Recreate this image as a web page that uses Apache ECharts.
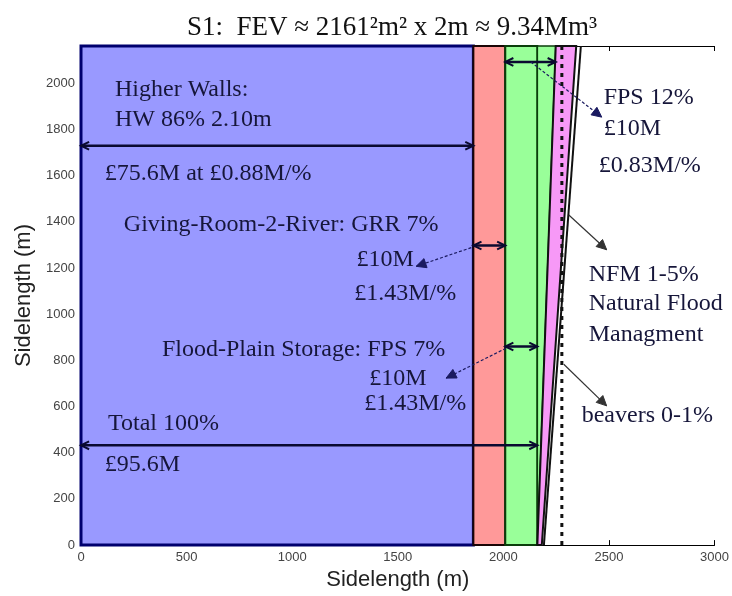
<!DOCTYPE html>
<html lang="en">
<head>
  <meta charset="UTF-8">
  <title>S1: FEV</title>
  <style>html, body { margin: 0; background: #fff; }</style>
</head>
<body>
  <div id="main" style="width: 732px;height: 596px;"></div>
  <script src="https://cdn.jsdelivr.net/npm/echarts@6/dist/echarts.min.js"></script>
  <script>
    // side of the FEV square (m)
    var side = 2161;
    // strip edges along the base: HW 86% | GRR 7% | FPS 7%
    var baseEdges = [0, 1858, 2009, 2161];
    // slanted wedges, [x at bottom, x at top]
    var fpsWedge = [2161, 2248];
    var nfmWedge = [2182, 2345];
    var beaverLine = [2192, 2367];
    var dottedX = 2277;
    var xMax = 3000;

    // double arrows: x1, y1, x2, y2
    var spans = [
      [0, 1729, 1858, 1729],
      [1858, 1297, 2009, 1297],
      [2009, 860, 2161, 860],
      [0, 432, 2161, 432],
      [2009, 2092, 2248, 2092]
    ];
    // pointer arrows: from x, y -> to x, y
    var pointers = [
      [1848, 1288, 1587, 1207],
      [2012, 852, 1729, 723],
      [2130, 2092, 2466, 1853],
      [2310, 1429, 2489, 1279],
      [2286, 783, 2489, 603]
    ];
    // annotation text anchors (left, middle)
    var noteX = [161, 161, 113, 203, 1304, 1294, 383, 1365, 1341, 128, 113, 2475, 2475, 2452, 2404, 2404, 2404, 2371];
    var noteY = [1973, 1844, 1609, 1386, 1237, 1087, 847, 719, 612, 526, 347, 1938, 1801, 1643, 1172, 1044, 911, 561];
    var noteText = [
      'Higher Walls:', 'HW 86% 2.10m', '£75.6M at £0.88M/%',
      'Giving-Room-2-River: GRR 7%', '£10M', '£1.43M/%',
      'Flood-Plain Storage: FPS 7%', '£10M', '£1.43M/%',
      'Total 100%', '£95.6M',
      'FPS 12%', '£10M', '£0.83M/%',
      'NFM 1-5%', 'Natural Flood', 'Managment',
      'beavers 0-1%'
    ];

    var zones = [
      [[baseEdges[0], 0], [baseEdges[1], 0], [baseEdges[1], side], [baseEdges[0], side]],
      [[baseEdges[1], 0], [baseEdges[2], 0], [baseEdges[2], side], [baseEdges[1], side]],
      [[baseEdges[2], 0], [baseEdges[3], 0], [baseEdges[3], side], [baseEdges[2], side]],
      [[fpsWedge[0], 0], [fpsWedge[1], side], [fpsWedge[0], side]],
      [[fpsWedge[0], 0], [nfmWedge[0], 0], [nfmWedge[1], side], [fpsWedge[1], side]]
    ];
    var zoneStyle = [
      { fill: '#9999ff', stroke: '#00006e', lineWidth: 3 },
      { fill: '#ff9999', stroke: '#1a0505', lineWidth: 2 },
      { fill: '#99ff99', stroke: '#0b3d0b', lineWidth: 2 },
      { fill: '#99ff99', stroke: '#0b3d0b', lineWidth: 1.5 },
      { fill: '#f799f7', stroke: '#111', lineWidth: 2 }
    ];
    var edgeLines = [
      [[beaverLine[0], 0], [beaverLine[1], side]],
      [[dottedX, 0], [dottedX, side]]
    ];

    function head(tip, from, len, filled, color) {
      var dx = from[0] - tip[0], dy = from[1] - tip[1];
      var d = Math.sqrt(dx * dx + dy * dy) || 1;
      dx /= d; dy /= d;
      var a = 0.45;
      var p1 = [tip[0] + len * (dx * Math.cos(a) - dy * Math.sin(a)), tip[1] + len * (dx * Math.sin(a) + dy * Math.cos(a))];
      var p2 = [tip[0] + len * (dx * Math.cos(a) + dy * Math.sin(a)), tip[1] + len * (-dx * Math.sin(a) + dy * Math.cos(a))];
      if (filled) {
        return { type: 'polygon', shape: { points: [p1, tip, p2] }, style: { fill: color, stroke: color, lineWidth: 1 } };
      }
      return { type: 'polyline', shape: { points: [p1, tip, p2] }, style: { stroke: color, lineWidth: 2, fill: null } };
    }

    var plain = function (v) { return String(v); };
    var tickFont = { margin: 6, fontFamily: 'Liberation Sans', fontSize: 13, color: '#444', formatter: plain };

    var chart = echarts.init(document.getElementById('main'));
    chart.setOption({
      animation: false,
      title: {
        text: 'S1:  FEV \u2248 2161\u00b2m\u00b2 x 2m \u2248 9.34Mm\u00b3',
        left: 182,
        top: 9,
        textStyle: { fontFamily: 'Liberation Serif', fontSize: 27, fontWeight: 'normal', color: '#111' }
      },
      grid: { left: 81, right: 16, top: 46, bottom: 45 },
      xAxis: [{
        type: 'value', min: 0, max: xMax, interval: 500,
        axisLine: { lineStyle: { color: '#000', width: 1 } },
        axisTick: { inside: true, length: 5, lineStyle: { color: '#000' } },
        splitLine: { show: false },
        axisLabel: tickFont,
        name: 'Sidelength (m)', nameLocation: 'middle', nameGap: 21,
        nameTextStyle: { fontFamily: 'Liberation Sans', fontSize: 22, color: '#222' }
      }, {
        type: 'value', position: 'top', min: 0, max: xMax, interval: 500,
        axisLine: { lineStyle: { color: '#000', width: 1 } },
        axisTick: { inside: true, length: 5, lineStyle: { color: '#000' } },
        axisLabel: { show: false },
        splitLine: { show: false }
      }],
      yAxis: {
        type: 'value', min: 0, max: side, interval: 200,
        axisLine: { lineStyle: { color: '#000', width: 1 } },
        axisTick: { inside: true, length: 5, lineStyle: { color: '#000' } },
        splitLine: { show: false },
        axisLabel: Object.assign({ showMaxLabel: false }, tickFont),
        name: 'Sidelength (m)', nameLocation: 'middle', nameGap: 46,
        nameTextStyle: { fontFamily: 'Liberation Sans', fontSize: 22, color: '#222' }
      },
      series: [{
        type: 'custom',
        name: 'zones',
        silent: true,
        data: zones.map(function (z) { return z[0]; }),
        renderItem: function (params, api) {
          var pts = zones[params.dataIndex].map(function (p) { return api.coord(p); });
          var s = zoneStyle[params.dataIndex];
          return { type: 'polygon', shape: { points: pts }, style: { fill: s.fill, stroke: s.stroke, lineWidth: s.lineWidth } };
        }
      }, {
        type: 'custom',
        name: 'edges',
        silent: true,
        data: edgeLines.map(function (l) { return l[0]; }),
        renderItem: function (params, api) {
          var l = edgeLines[params.dataIndex];
          var a = api.coord(l[0]), b = api.coord(l[1]);
          var dotted = params.dataIndex === 1;
          return {
            type: 'line',
            shape: { x1: a[0], y1: a[1], x2: b[0], y2: b[1] },
            style: { stroke: '#111', lineWidth: dotted ? 3 : 2, lineDash: dotted ? [4, 5] : null }
          };
        }
      }, {
        type: 'custom',
        name: 'spans',
        silent: true,
        data: spans.map(function (s) { return [s[0], s[1]]; }),
        renderItem: function (params, api) {
          var s = spans[params.dataIndex];
          var a = api.coord([s[0], s[1]]), b = api.coord([s[2], s[3]]);
          var c = '#0a0a30';
          return {
            type: 'group',
            children: [
              { type: 'line', shape: { x1: a[0], y1: a[1], x2: b[0], y2: b[1] }, style: { stroke: c, lineWidth: 2.5 } },
              head(a, b, 9, false, c),
              head(b, a, 9, false, c)
            ]
          };
        }
      }, {
        type: 'custom',
        name: 'pointers',
        silent: true,
        data: pointers.map(function (p) { return [p[0], p[1]]; }),
        renderItem: function (params, api) {
          var p = pointers[params.dataIndex];
          var a = api.coord([p[0], p[1]]), b = api.coord([p[2], p[3]]);
          var dashed = params.dataIndex < 3;
          var c = dashed ? '#1a1a60' : '#333';
          return {
            type: 'group',
            children: [
              { type: 'line', shape: { x1: a[0], y1: a[1], x2: b[0], y2: b[1] }, style: { stroke: c, lineWidth: 1.2, lineDash: dashed ? [3, 2] : null } },
              head(b, a, 11, true, c)
            ]
          };
        }
      }, {
        type: 'custom',
        name: 'notes',
        silent: true,
        data: noteX.map(function (x, i) { return [x, noteY[i]]; }),
        renderItem: function (params, api) {
          var p = api.coord([noteX[params.dataIndex], noteY[params.dataIndex]]);
          return {
            type: 'text',
            x: p[0], y: p[1],
            style: {
              text: noteText[params.dataIndex],
              fontFamily: 'Liberation Serif', fontSize: 24,
              fill: '#16163a', align: 'left', verticalAlign: 'middle'
            }
          };
        }
      }]
    });
  </script>
</body>
</html>
